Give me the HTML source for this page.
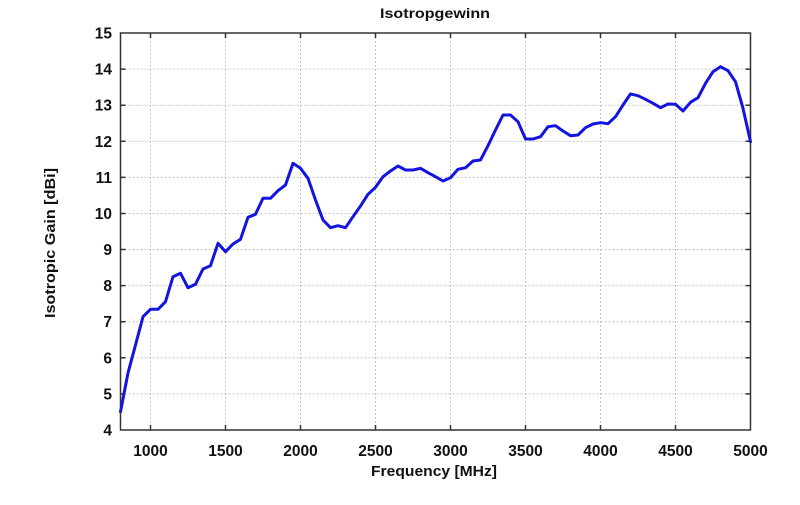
<!DOCTYPE html>
<html><head><meta charset="utf-8"><style>
html,body{margin:0;padding:0;background:#fff;}
svg{display:block;}
text{font-family:"Liberation Sans",Arial,sans-serif;font-weight:bold;fill:#111;}
</style></head><body>
<svg width="800" height="505" viewBox="0 0 800 505" xmlns="http://www.w3.org/2000/svg">
<rect width="800" height="505" fill="#fff"/>
<g stroke="#c4c4c4" stroke-width="1" stroke-dasharray="2,2" fill="none">
<line x1="150.5" y1="33" x2="150.5" y2="430"/>
<line x1="225.5" y1="33" x2="225.5" y2="430"/>
<line x1="300.5" y1="33" x2="300.5" y2="430"/>
<line x1="375.5" y1="33" x2="375.5" y2="430"/>
<line x1="450.5" y1="33" x2="450.5" y2="430"/>
<line x1="525.5" y1="33" x2="525.5" y2="430"/>
<line x1="600.5" y1="33" x2="600.5" y2="430"/>
<line x1="675.5" y1="33" x2="675.5" y2="430"/>
<line x1="120.5" y1="69.1" x2="750.5" y2="69.1"/>
<line x1="120.5" y1="105.2" x2="750.5" y2="105.2"/>
<line x1="120.5" y1="141.3" x2="750.5" y2="141.3"/>
<line x1="120.5" y1="177.4" x2="750.5" y2="177.4"/>
<line x1="120.5" y1="213.5" x2="750.5" y2="213.5"/>
<line x1="120.5" y1="249.5" x2="750.5" y2="249.5"/>
<line x1="120.5" y1="285.6" x2="750.5" y2="285.6"/>
<line x1="120.5" y1="321.7" x2="750.5" y2="321.7"/>
<line x1="120.5" y1="357.8" x2="750.5" y2="357.8"/>
<line x1="120.5" y1="393.9" x2="750.5" y2="393.9"/>
</g>
<g stroke="#333" stroke-width="1.5" fill="none">
<rect x="120.5" y="33" width="630" height="397"/>
<path d="M150.5 430v-5M225.5 430v-5M300.5 430v-5M375.5 430v-5M450.5 430v-5M525.5 430v-5M600.5 430v-5M675.5 430v-5
M150.5 33v5M225.5 33v5M300.5 33v5M375.5 33v5M450.5 33v5M525.5 33v5M600.5 33v5M675.5 33v5
M120.5 69.1h5M120.5 105.2h5M120.5 141.3h5M120.5 177.4h5M120.5 213.5h5M120.5 249.5h5M120.5 285.6h5M120.5 321.7h5M120.5 357.8h5M120.5 393.9h5
M750.5 69.1h-5M750.5 105.2h-5M750.5 141.3h-5M750.5 177.4h-5M750.5 213.5h-5M750.5 249.5h-5M750.5 285.6h-5M750.5 321.7h-5M750.5 357.8h-5M750.5 393.9h-5"/>
</g>
<polyline fill="none" stroke="#1414e0" stroke-width="3" stroke-linejoin="round" stroke-linecap="round" points="
120.5,411.7 128,373 135.5,345 143,316.7 150.5,309.3 158,309.3 165.5,301.7 173,276.7 180.5,273.3 188,287.7
195.5,284.3 203,269 210.5,265.7 218,243.3 225.5,251.7 233,244 240.5,239.3 248,217.3 255.5,214.3 263,198.3
270.5,198.3 278,190.7 285.5,185 293,163.3 300.5,168.3 308,178.3 315.5,200 323,220 330.5,227.7 338,225.7
345.5,227.7 353,216.7 360.5,206 368,194.3 375.5,187.3 383,176.7 390.5,171 398,166 405.5,170 413,170
420.5,168.3 428,172.7 435.5,176.7 443,181 450.5,177.7 458,169.3 465.5,167.7 473,161 480.5,160 488,145.7
495.5,130 503,115 510.5,115 518,121.7 525.5,139 533,139 540.5,136.7 548,126.7 555.5,125.7 563,131
570.5,135.7 578,135 585.5,127.7 593,124 600.5,122.7 608,123.7 615.5,116.7 623,105 630.5,94 638,95.7
645.5,99.3 653,103.3 660.5,107.7 668,104 675.5,104.3 683,111 690.5,102.3 698,97.7 705.5,83.3 713,71.7
720.5,66.7 728,70.7 735.5,81.7 743,108.3 750.5,141.7"/>
<g font-size="15.5" text-anchor="end">
<text x="112" y="38.5">15</text>
<text x="112" y="74.6">14</text>
<text x="112" y="110.7">13</text>
<text x="112" y="146.8">12</text>
<text x="112" y="182.9">11</text>
<text x="112" y="219">10</text>
<text x="112" y="255">9</text>
<text x="112" y="291.1">8</text>
<text x="112" y="327.2">7</text>
<text x="112" y="363.3">6</text>
<text x="112" y="399.4">5</text>
<text x="112" y="435.5">4</text>
</g>
<g font-size="15.5" text-anchor="middle">
<text x="150.5" y="456">1000</text>
<text x="225.5" y="456">1500</text>
<text x="300.5" y="456">2000</text>
<text x="375.5" y="456">2500</text>
<text x="450.5" y="456">3000</text>
<text x="525.5" y="456">3500</text>
<text x="600.5" y="456">4000</text>
<text x="675.5" y="456">4500</text>
<text x="750.5" y="456">5000</text>
</g>
<text x="434" y="476" font-size="15" text-anchor="middle" textLength="126" lengthAdjust="spacingAndGlyphs">Frequency [MHz]</text>
<text x="435" y="18" font-size="14" text-anchor="middle" textLength="110" lengthAdjust="spacingAndGlyphs">Isotropgewinn</text>
<text transform="translate(55,243) rotate(-90)" font-size="15" text-anchor="middle" textLength="150" lengthAdjust="spacingAndGlyphs">Isotropic Gain [dBi]</text>
</svg>
</body></html>
